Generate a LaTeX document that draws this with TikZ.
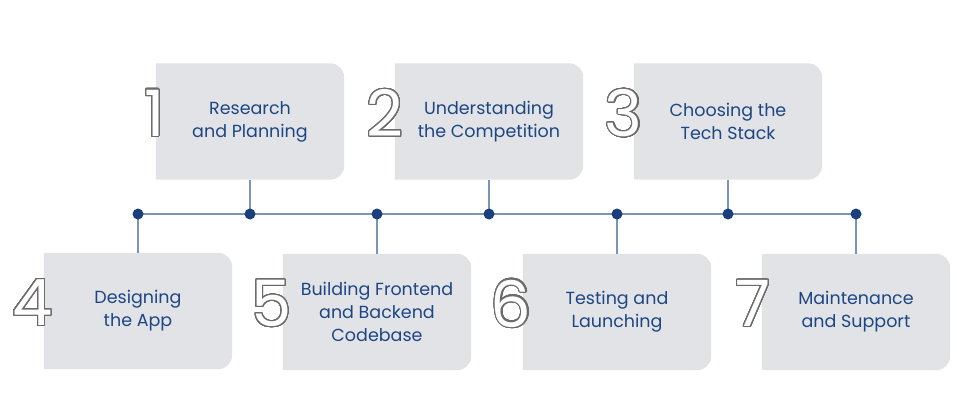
\documentclass[tikz,border=0pt]{standalone}
\usepackage{fontspec}
\setmainfont{Poppins}
\usepackage{contour}
\usetikzlibrary{backgrounds,calc}
\definecolor{boxgray}{HTML}{E2E3E6}
\definecolor{stepblue}{HTML}{1D4685}
\definecolor{linkblue}{HTML}{7A95B8}
\definecolor{dotblue}{HTML}{1B3F7C}
\definecolor{digitgray}{HTML}{6B6B6B}
\contourlength{1.1pt}
\newcommand{\outdigit}[1]{\contour[48]{digitgray}{\textcolor{white}{#1}}}
\tikzset{
	stepbox/.style={minimum width=188pt, minimum height=116pt, inner sep=0pt, align=center,
		text=stepblue, font=\fontsize{17.5}{23}\selectfont},
	num/.style={anchor=east, inner sep=0pt, font=\fontsize{64}{64}\selectfont},
	link/.style={linkblue, line width=1.5pt},
	dot/.style={circle, fill=dotblue, minimum size=11pt, inner sep=0pt}
}
\begin{document}
\begin{tikzpicture}[x=1pt,y=-1pt]
	\useasboundingbox (0,0) rectangle (957,406);

	% les etapes
	\node[stepbox] (s1) at (250,121.5) {Research\\and Planning};
	\node[stepbox] (s2) at (489,121.5) {Understanding\\the Competition};
	\node[stepbox] (s3) at (728,121.5) {Choosing the\\Tech Stack};
	\node[stepbox] (s4) at (138,311) {Designing\\the App};
	\node[stepbox] (s5) at (377,312) {Building Frontend\\and Backend\\Codebase};
	\node[stepbox] (s6) at (617,312) {Testing and\\Launching};
	\node[stepbox] (s7) at (856,312) {Maintenance\\and Support};

	\begin{scope}[on background layer]
		\foreach \s in {s1,s2,s3,s4,s5,s6,s7}
			\fill[boxgray] (\s.north west) [rounded corners=14pt] -- (\s.north east)
				-- (\s.south east) [sharp corners] -- (\s.south west) -- cycle;
	\end{scope}

	% les chiffres
	\foreach \s/\n in {s1/1,s2/2,s3/3,s4/4,s5/5,s6/6,s7/7}
		\node[num] (n\n) at ($(\s.west)+(9,-8)$) {\outdigit{\n}};

	% la ligne
	\foreach \i/\x in {1/138,2/250,3/377,4/489,5/617,6/728,7/856}
		\coordinate (d\i) at (\x,214);
	\draw[link] (d1) -- (d7);
	\draw[link] (s1.south) -- (d2);
	\draw[link] (s2.south) -- (d4);
	\draw[link] (s3.south) -- (d6);
	\draw[link] (s4.north) -- (d1);
	\draw[link] (s5.north) -- (d3);
	\draw[link] (s6.north) -- (d5);
	\draw[link] (s7.north) -- (d7);
	\foreach \i in {1,...,7}
		\node[dot] at (d\i) {};

\end{tikzpicture}
\end{document}
